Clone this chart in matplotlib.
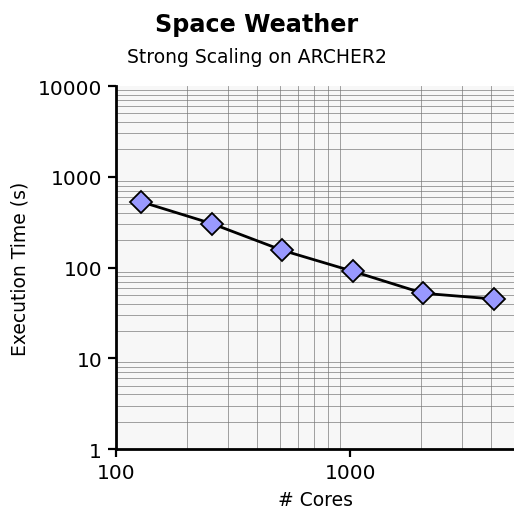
import matplotlib
matplotlib.use("Agg")
import matplotlib.pyplot as plt
from matplotlib.ticker import LogLocator, NullFormatter, FixedLocator, FixedFormatter

plt.rcParams["font.family"] = ["DejaVu Sans"]

# strong scaling data
cores = [128, 256, 512, 1024, 2048, 4096]
exec_time = [530, 305, 155, 91, 52, 45]

xticks = [100, 1000]
yticks = [1, 10, 100, 1000, 10000]

fig = plt.figure(figsize=(5.14, 5.10), dpi=100)
ax = fig.add_axes([0.2257, 0.1176, 0.7743, 0.7118])
ax.set_facecolor("#f7f7f7")

ax.plot(cores, exec_time, color="black", linewidth=2, marker="D",
        markersize=11, markerfacecolor="#9999ff", markeredgecolor="black",
        markeredgewidth=1.3, zorder=3)

ax.set_xscale("log")
ax.set_yscale("log")
ax.set_xlim(100, 5000)
ax.set_ylim(1, 10000)

ax.xaxis.set_major_locator(FixedLocator(xticks))
ax.xaxis.set_major_formatter(FixedFormatter([str(v) for v in xticks]))
ax.yaxis.set_major_locator(FixedLocator(yticks))
ax.yaxis.set_major_formatter(FixedFormatter([str(v) for v in yticks]))
for axis in (ax.xaxis, ax.yaxis):
    axis.set_minor_locator(LogLocator(base=10, subs=range(2, 10), numticks=20))
    axis.set_minor_formatter(NullFormatter())

ax.grid(which="minor", color="#777777", linewidth=0.6, alpha=0.8)
ax.tick_params(which="minor", length=0)
ax.tick_params(which="major", length=5.5, width=1.6, labelsize=14.5,
               direction="out", pad=4.5)

for side in ("top", "right"):
    ax.spines[side].set_visible(False)
for side in ("left", "bottom"):
    ax.spines[side].set_linewidth(2)

ax.set_xlabel("# Cores", fontsize=13.5, labelpad=6)
ax.set_ylabel("Execution Time (s)", fontsize=13.5, labelpad=6)

fig.text(0.5, 0.951, "Space Weather", ha="center", va="center",
         fontsize=17.2, fontweight="bold")
fig.text(0.5, 0.888, "Strong Scaling on ARCHER2", ha="center", va="center",
         fontsize=13.5)

fig.savefig("out.png", dpi=100)
